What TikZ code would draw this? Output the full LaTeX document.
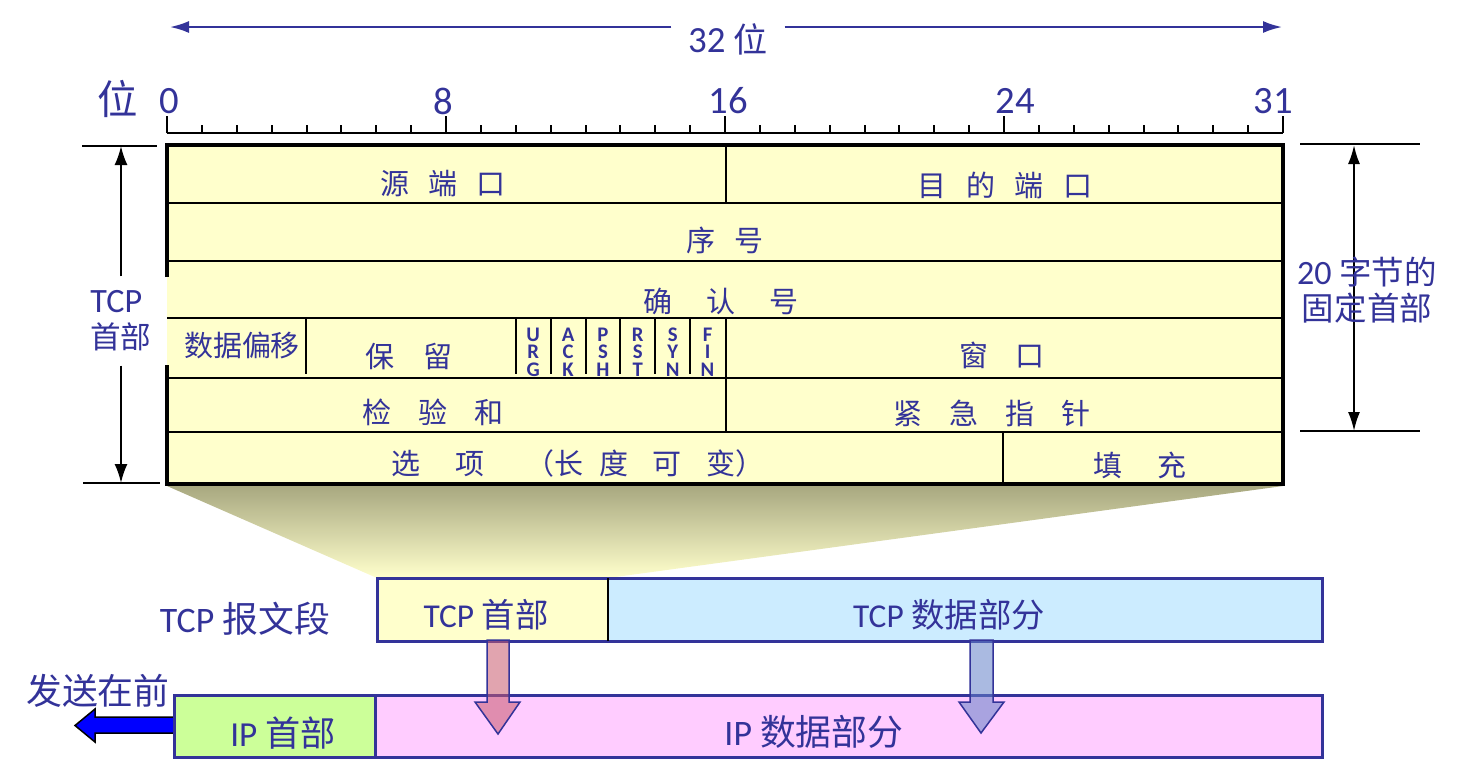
\documentclass[tikz,border=0pt]{standalone}
\usepackage{fontspec}
\setmainfont{Carlito}
\newfontfamily\cjk{Noto Sans CJK SC}
\usetikzlibrary{arrows.meta}
\definecolor{tblue}{RGB}{51,51,153}
\definecolor{cellyel}{RGB}{255,255,204}
\definecolor{datcyan}{RGB}{204,236,255}
\definecolor{hdrgreen}{RGB}{204,255,153}
\definecolor{datpink}{RGB}{255,204,255}
\definecolor{funtop}{RGB}{168,168,128}
\definecolor{funmid}{RGB}{236,236,186}
\definecolor{redarr}{RGB}{200,90,110}
\definecolor{bluearr}{RGB}{100,130,200}
\newcommand{\kgap}[1]{\hspace{#1em}}

\begin{document}
\begin{tikzpicture}[x=0.1mm,y=-0.1mm]
\tikzset{zhtxt/.style={text=tblue,inner sep=0pt,font=\cjk\fontsize{8.25}{10}\selectfont},
numtxt/.style={text=tblue,inner sep=0pt,font=\fontsize{11}{13}\selectfont},
flagtxt/.style={text=tblue,inner sep=0pt,align=center,font=\bfseries\fontsize{5.9}{5}\selectfont},
lbl/.style={text=tblue,inner sep=0pt},
grid/.style={line width=0.2mm},
frame/.style={line width=0.38mm,line join=miter},
dim/.style={line width=0.2mm,-{Latex[length=1.9mm,width=1.3mm]}},
toparr/.style={draw=tblue,line width=0.2mm,-{Latex[length=1.9mm,width=1.2mm]}},
seg/.style={inner sep=0pt,outer sep=0pt,minimum height=6.3mm},
segline/.style={draw=tblue,line width=0.3mm},
blockar/.style={draw=tblue,line width=0.15mm,fill opacity=0.55}}
\useasboundingbox (0,0) rectangle (1459,778);

% segment boxes (fills only)
\node[seg,fill=cellyel,minimum width=23.1mm] (tcph) at (492.5,609.5) {};
\node[seg,fill=datcyan,minimum width=71.4mm] (tcpd) at (965,609.5) {};
\node[seg,fill=hdrgreen,minimum width=20.1mm,minimum height=6.2mm] (iph) at (274.5,726) {};
\node[seg,fill=datpink,minimum width=94.7mm,minimum height=6.2mm] (ipd) at (848.5,726) {};

% funnel from the header table down to the TCP header
\shade[top color=funtop,middle color=funmid,bottom color=cellyel] (167,486) -- (1283,486) -- (tcpd.north west) -- (tcph.north west) -- cycle;

% header table
\fill[cellyel] (167,145) rectangle (1283,484);
\foreach \y in {203,261,318,378,432} \draw[grid] (167,\y) -- (1283,\y);
\draw[grid] (726,145) -- (726,203);
\draw[grid] (306,318) -- (306,374);
\foreach \b in {10,...,15} \draw[grid] ({167+34.875*\b},318) -- ({167+34.875*\b},374);
\draw[grid] (726,318) -- (726,432);
\draw[grid] (1003,432) -- (1003,484);
\draw[frame] (167,277) -- (167,145) -- (1283,145) -- (1283,484) -- (167,484) -- (167,365);

\node[zhtxt] (src) at (443,184) {源\kgap{.65}端\kgap{.65}口};
\node[zhtxt] (dst) at (1005,185) {目\kgap{.68}的\kgap{.68}端\kgap{.68}口};
\node[zhtxt] (seq) at (725,240) {序\kgap{.65}号};
\node[zhtxt] (ack) at (721,301) {确\kgap{1.17}认\kgap{1.17}号};
\node[zhtxt] (off) at (242,345) {数据偏移};
\node[zhtxt] (res) at (409,356) {保\kgap{.97}留};
\node[zhtxt] (win) at (1002,355) {窗\kgap{.93}口};
\node[zhtxt] (chk) at (433,412) {检\kgap{.93}验\kgap{.93}和};
\node[zhtxt] (urp) at (992,413) {紧\kgap{.93}急\kgap{.93}指\kgap{.93}针};
\node[zhtxt,anchor=west] (opt) at (391,463) {选\kgap{1.2}项\kgap{1.4}（长\kgap{.58}度\kgap{.83}可\kgap{.86}变）};
\node[zhtxt] (pad) at (1140,465) {填\kgap{1.2}充};
\foreach \f [count=\i from 0] in {{U\\R\\G},{A\\C\\K},{P\\S\\H},{R\\S\\T},{S\\Y\\N},{F\\I\\N}}
  \node[flagtxt] (flag\i) at ({167+34.875*(10.5+\i)},352) {\f};

% bit ruler
\draw[grid] (167,133) -- (1283,133);
\foreach \b in {0,...,32} \draw[grid] ({167+34.875*\b},133) -- ++(0,-8);
\foreach \b in {0,8,...,32} \draw[grid] ({167+34.875*\b},133) -- ++(0,-17);
\node[zhtxt,font=\cjk\fontsize{11.5}{13}\selectfont] (wei) at (118,99) {位};
\node[numtxt] (b0) at (169,101) {0};
\node[numtxt] (b8) at (443,101) {8};
\node[numtxt] (b16) at (728,101) {16};
\node[numtxt] (b24) at (1015,101) {24};
\node[numtxt] (b31) at (1273,101) {31};

% 32 bit arrow
\node[numtxt,font=\fontsize{10.5}{12}\selectfont,inner xsep=1.6mm] (w32) at (728,39) {32 {\cjk\fontsize{9.7}{12}\selectfont 位}};
\coordinate (aL) at (170,27);
\coordinate (aR) at (1282,27);
\draw[toparr] (w32.west |- aL) -- (aL);
\draw[toparr] (w32.east |- aR) -- (aR);

% header length, left
\node[lbl,align=left,minimum height=8.8mm,font=\fontsize{9.7}{10.2}\selectfont] (hdrlab) at (121,321) {TCP\\{\cjk\fontsize{8.7}{10.2}\selectfont 首部}};
\coordinate (ltop) at (121,146);
\coordinate (lbot) at (121,483);
\draw[grid] (82,146) -- (157,146);
\draw[grid] (83,483) -- (160,483);
\draw[dim] (hdrlab.north) -- (ltop);
\draw[dim] (hdrlab.south) -- (lbot);

% fixed part, right
\coordinate (rtop) at (1354,145);
\coordinate (rbot) at (1354,431);
\draw[grid] (1300,144) -- (1420,144);
\draw[grid] (1300,431) -- (1420,431);
\draw[dim,{Latex[length=1.9mm,width=1.2mm]}-{Latex[length=1.9mm,width=1.2mm]}] (rtop) -- (rbot);
\node[lbl,align=center,font=\fontsize{9.7}{10.2}\selectfont] (fixlab) at (1367,290) {20 {\cjk\fontsize{9.25}{10.2}\selectfont 字节的}\\{\cjk\fontsize{9.25}{10.2}\selectfont 固定首部}};

% send direction
\draw[fill=blue,line width=0.15mm] (iph.west |- 0,717) -- (95,717) -- (95,709) -- (75,725.5) -- (95,742) -- (95,733) -- (iph.west |- 0,733);

% segment frames
\draw[segline] (tcph.north west) rectangle (tcpd.south east);
\draw[line width=0.15mm] (tcph.north east) -- (tcph.south east);
\draw[segline] (iph.north west) rectangle (ipd.south east);
\draw[segline] (iph.north east) -- (iph.south east);

% down arrows
\draw[blockar,fill=redarr] (487,640) -- (509,640) -- (509,702) -- (520,702) -- (498,734) -- (475,702) -- (487,702) -- cycle;
\draw[blockar,fill=bluearr] (970,640) -- (993,640) -- (993,702) -- (1004,702) -- (981,733) -- (959,702) -- (970,702) -- cycle;

\node[lbl,font=\fontsize{10.2}{12}\selectfont] (seglab) at (245,619) {TCP {\cjk 报文段}};
\node[lbl,font=\fontsize{9.5}{11}\selectfont] (tcphl) at (486,615) {TCP {\cjk 首部}};
\node[lbl,font=\fontsize{9.5}{11}\selectfont] (tcpdl) at (949,615) {TCP {\cjk 数据部分}};
\node[lbl,font=\fontsize{10}{12}\selectfont] (iphl) at (283,733) {IP {\cjk 首部}};
\node[lbl,font=\fontsize{10.2}{12}\selectfont] (ipdl) at (814,732) {IP {\cjk 数据部分}};
\node[lbl,font=\cjk\fontsize{10.2}{12}\selectfont] (sendlab) at (98,691) {发送在前};
\end{tikzpicture}
\end{document}
